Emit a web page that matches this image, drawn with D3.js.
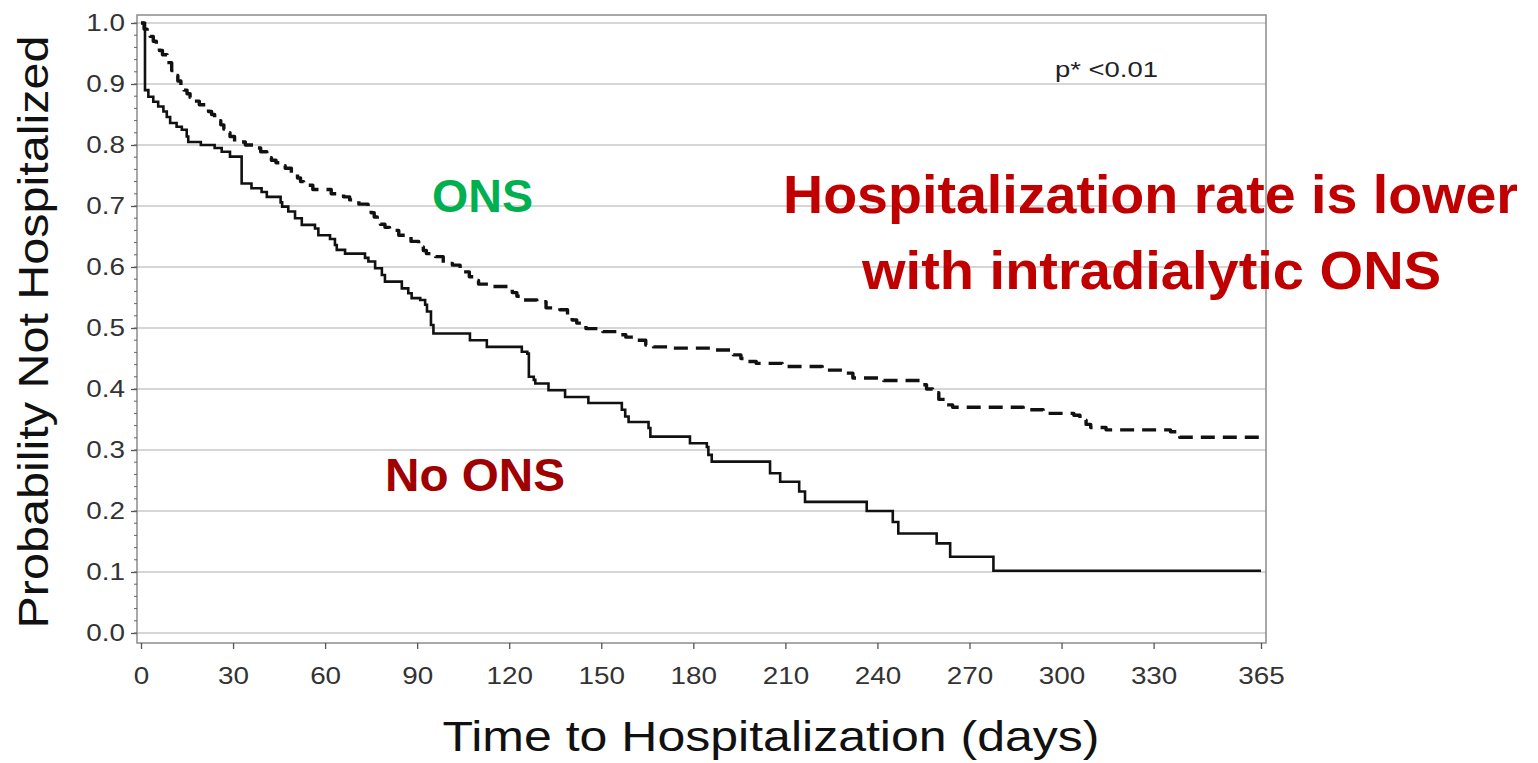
<!DOCTYPE html>
<html>
<head>
<meta charset="utf-8">
<script src="https://cdn.jsdelivr.net/npm/d3@7"></script>
<style>
  html, body { margin: 0; padding: 0; background: #fff; }
  svg { display: block; }
  text { font-family: "Liberation Sans", Arial, sans-serif; }
</style>
</head>
<body>
<svg id="chart" width="1538" height="763"></svg>
<script>
// Kaplan-Meier estimates: [day, probability not hospitalized]
const onsSteps = [
  [0,1.0],[1,0.99],[2,0.984],[3,0.978],[4,0.97],[5,0.962],[6,0.955],[7,0.948],[8.5,0.935],
  [10,0.922],[11,0.914],[12,0.905],[13,0.897],[14,0.89],[15,0.884],[16,0.878],[17.5,0.872],
  [19,0.866],[21,0.86],[22,0.855],[23,0.85],[24,0.845],[25,0.84],[26,0.833],[27,0.826],
  [28,0.82],[29,0.814],[30.5,0.805],[34,0.8],[37,0.795],[39,0.789],[41,0.779],[42.5,0.775],
  [44,0.771],[45.5,0.766],[47,0.762],[49,0.754],[51,0.746],[52,0.74],[53,0.734],[56,0.727],
  [62,0.72],[66,0.715],[68,0.71],[71,0.703],[74,0.696],[75,0.689],[76,0.682],[77,0.676],
  [78,0.67],[79.5,0.665],[81,0.66],[84,0.652],[88,0.642],[90.5,0.633],[92,0.627],[93,0.622],
  [96,0.617],[98.5,0.606],[101.5,0.603],[104,0.592],[107,0.584],[108.5,0.578],[110,0.572],
  [113.5,0.568],[120,0.565],[121,0.558],[122.5,0.552],[124.5,0.546],[129,0.543],[132,0.533],
  [136.5,0.53],[139,0.519],[140.5,0.513],[142,0.508],[145,0.499],[150.5,0.494],[156,0.489],
  [158,0.485],[160.5,0.48],[164.5,0.472],[167,0.469],[173.5,0.467],[186,0.464],[193,0.456],
  [195.5,0.45],[197,0.445],[200.5,0.442],[209,0.437],[222,0.431],[230,0.426],[232,0.418],
  [242,0.414],[254,0.407],[256,0.4],[258,0.394],[260,0.383],[262.5,0.374],[264.5,0.37],
  [287.5,0.366],[294,0.36],[304,0.357],[306,0.349],[308,0.342],[309.5,0.337],[314.5,0.333],
  [335.5,0.33],[338.5,0.321],[365,0.321]
];

const noOnsSteps = [
  [0,1.0],[1.3,0.89],[2.4,0.879],[4,0.871],[5.6,0.863],[7.3,0.855],[8.4,0.846],[9.5,0.836],
  [11.6,0.83],[13.3,0.825],[14.9,0.814],[15.4,0.805],[19.5,0.8],[24,0.795],[26.3,0.789],
  [29,0.781],[32.8,0.737],[36,0.729],[39.3,0.723],[41,0.715],[45.5,0.706],[46,0.699],
  [48,0.691],[50.2,0.68],[52.4,0.669],[56.7,0.663],[57.8,0.652],[61.6,0.646],[63.2,0.636],
  [63.8,0.628],[66.5,0.622],[73,0.615],[74.1,0.609],[76.3,0.598],[78.5,0.587],[79.5,0.576],
  [85,0.565],[87.1,0.557],[88.2,0.549],[91,0.546],[92.6,0.538],[93.2,0.527],[94.5,0.505],
  [95.3,0.491],[107.2,0.48],[112.7,0.469],[124.1,0.461],[125.9,0.458],[126.4,0.42],
  [128,0.415],[128.5,0.409],[132.8,0.398],[138.2,0.387],[145.8,0.377],[156.7,0.366],
  [157.8,0.355],[158.9,0.346],[165.4,0.336],[166,0.322],[178.9,0.311],[184.4,0.305],
  [184.9,0.292],[186,0.281],[205,0.262],[208.3,0.248],[214.5,0.232],[216.4,0.215],
  [236.5,0.2],[245,0.182],[246.8,0.163],[259.3,0.147],[263.7,0.125],[277.8,0.102],[365,0.102]
];

const xTicks = [0,30,60,90,120,150,180,210,240,270,300,330,365];
const yTicks = [0,0.1,0.2,0.3,0.4,0.5,0.6,0.7,0.8,0.9,1.0];
const yMinorTicks = d3.range(0, 1.0001, 0.02);

const svg = d3.select("#chart");

// Plot frame and scales
const frame = { left: 137, top: 15, right: 1266, bottom: 643 };
const x = d3.scaleLinear().domain([0, 365]).range([141, 1261]);
const y = d3.scaleLinear().domain([0, 1]).range([633, 23]);

const stretch = 1.16;
function widen(sel, f) {
  sel.each(function () {
    const w = this.getComputedTextLength();
    d3.select(this).attr("textLength", w * f).attr("lengthAdjust", "spacingAndGlyphs");
  });
}

// Horizontal gridlines
svg.append("g").selectAll("line").data(yTicks).join("line")
  .attr("x1", frame.left).attr("x2", frame.right)
  .attr("y1", d => y(d)).attr("y2", d => y(d))
  .attr("stroke", "#c9c9c9").attr("stroke-width", 1.6);

// Frame
svg.append("rect")
  .attr("x", frame.left).attr("y", frame.top)
  .attr("width", frame.right - frame.left).attr("height", frame.bottom - frame.top)
  .attr("fill", "none").attr("stroke", "#8c8c8c").attr("stroke-width", 1.5);

// Y axis (major + minor ticks on the left edge of the frame)
const yAxis = svg.append("g").attr("transform", `translate(${frame.left},0)`)
  .call(d3.axisLeft(y).tickValues(yTicks).tickFormat(d3.format(".1f")).tickSize(6).tickPadding(6));
yAxis.select(".domain").remove();
yAxis.selectAll(".tick line").attr("stroke", "#555").attr("stroke-width", 1.3);
yAxis.selectAll(".tick text").attr("font-size", 24).attr("fill", "#333")
  .attr("font-family", "'Liberation Sans', Arial, sans-serif").call(widen, stretch);

svg.append("g").selectAll("line").data(yMinorTicks).join("line")
  .attr("x1", frame.left - 3).attr("x2", frame.left)
  .attr("y1", d => y(d)).attr("y2", d => y(d))
  .attr("stroke", "#666").attr("stroke-width", 1);

// X axis
const xAxis = svg.append("g").attr("transform", `translate(0,${frame.bottom})`)
  .call(d3.axisBottom(x).tickValues(xTicks).tickFormat(d3.format("d")).tickSize(6).tickPadding(18));
xAxis.select(".domain").remove();
xAxis.selectAll(".tick line").attr("stroke", "#555").attr("stroke-width", 1.3);
xAxis.selectAll(".tick text").attr("font-size", 24).attr("fill", "#333")
  .attr("font-family", "'Liberation Sans', Arial, sans-serif").call(widen, stretch);

// Survival curves
const line = d3.line().x(d => x(d[0])).y(d => y(d[1])).curve(d3.curveStepAfter);

svg.append("path").datum(noOnsSteps)
  .attr("d", line).attr("fill", "none")
  .attr("stroke", "#111").attr("stroke-width", 2.6);

svg.append("path").datum(onsSteps)
  .attr("d", line).attr("fill", "none")
  .attr("stroke", "#111").attr("stroke-width", 3.4)
  .attr("stroke-linejoin", "round")
  .attr("stroke-dasharray", "14,8");

// Axis titles
svg.append("text")
  .attr("transform", "translate(48,332) rotate(-90)")
  .attr("text-anchor", "middle")
  .attr("font-size", 42).attr("fill", "#111")
  .text("Probability Not Hospitalized")
  .attr("textLength", 593).attr("lengthAdjust", "spacingAndGlyphs");

svg.append("text")
  .attr("x", 771).attr("y", 751)
  .attr("text-anchor", "middle")
  .attr("font-size", 43).attr("fill", "#111")
  .text("Time to Hospitalization (days)")
  .attr("textLength", 657).attr("lengthAdjust", "spacingAndGlyphs");

// p-value note
svg.append("text")
  .attr("x", 1055).attr("y", 77)
  .attr("font-size", 22).attr("fill", "#222")
  .text("p* <0.01")
  .attr("textLength", 103).attr("lengthAdjust", "spacingAndGlyphs");

// Group labels
svg.append("text")
  .attr("x", 432).attr("y", 212)
  .attr("font-size", 46).attr("font-weight", "bold").attr("fill", "#00b050")
  .text("ONS")
  .attr("textLength", 101).attr("lengthAdjust", "spacingAndGlyphs");

svg.append("text")
  .attr("x", 385).attr("y", 491)
  .attr("font-size", 46).attr("font-weight", "bold").attr("fill", "#a00000")
  .text("No ONS")
  .attr("textLength", 180).attr("lengthAdjust", "spacingAndGlyphs");

// Headline annotation
svg.append("text")
  .attr("x", 783).attr("y", 213)
  .attr("font-family", "Lato, 'Open Sans', sans-serif")
  .attr("font-size", 54).attr("font-weight", "bold").attr("fill", "#c00000")
  .text("Hospitalization rate is lower")
  .attr("textLength", 735).attr("lengthAdjust", "spacingAndGlyphs");

svg.append("text")
  .attr("x", 862).attr("y", 289)
  .attr("font-family", "Lato, 'Open Sans', sans-serif")
  .attr("font-size", 54).attr("font-weight", "bold").attr("fill", "#c00000")
  .text("with intradialytic ONS")
  .attr("textLength", 579).attr("lengthAdjust", "spacingAndGlyphs");
</script>
</body>
</html>
